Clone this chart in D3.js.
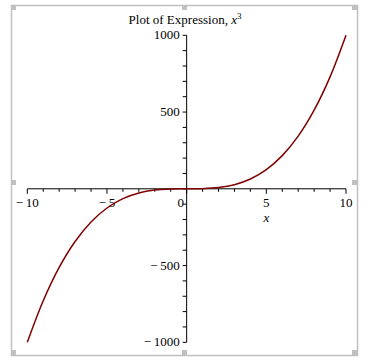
<!DOCTYPE html>
<html>
<head>
<meta charset="utf-8">
<script src="https://cdn.jsdelivr.net/npm/d3@7"></script>
<style>
  body { margin: 0; background: #fff; }
  text { font-family: "Liberation Serif", "DejaVu Serif", serif; font-size: 13px; fill: #000; }
</style>
</head>
<body>
<div id="my_dataviz"></div>
<script>
var width = 371,
    height = 362;

// values, y = x^3 at each integer x
var xValues = [-10, -9, -8, -7, -6, -5, -4, -3, -2, -1, 0, 1, 2, 3, 4, 5, 6, 7, 8, 9, 10];
var yValues = [-1000, -729, -512, -343, -216, -125, -64, -27, -8, -1, 0, 1, 8, 27, 64, 125, 216, 343, 512, 729, 1000];
var xTickLabels = [-10, -5, 0, 5, 10];
var yTickLabels = [-1000, -500, 500, 1000];

var svg = d3.select("#my_dataviz")
  .append("svg")
    .attr("width", width)
    .attr("height", height);

// frame with selection handles
svg.append("rect")
  .attr("x", 11.5).attr("y", 5.5)
  .attr("width", 346).attr("height", 350)
  .attr("fill", "none")
  .attr("stroke", "#c0c0c0")
  .attr("stroke-width", 1.5);

var handles = [[11, 5], [182, 5], [352, 5], [11, 180], [352, 180], [11, 350], [182, 350], [352, 350]];
svg.selectAll("rect.handle")
  .data(handles)
  .enter()
  .append("rect")
    .attr("class", "handle")
    .attr("x", function(d) { return d[0]; })
    .attr("y", function(d) { return d[1]; })
    .attr("width", 5)
    .attr("height", 5)
    .attr("fill", "#c0c0c0");

var x = d3.scaleLinear().domain([-10, 10]).range([27.3, 346]);
var y = d3.scaleLinear().domain([-1000, 1000]).range([342.3, 35.3]);

var x0 = x(0), y0 = y(0);
var fmt = function(v) { return v < 0 ? "\u2212\u2009" + Math.abs(v) : "" + v; };

// x axis
var xAxis = svg.append("g");
xAxis.append("line")
  .attr("x1", x(-10)).attr("x2", x(10))
  .attr("y1", y0).attr("y2", y0)
  .attr("stroke", "#000");
xAxis.selectAll("line.tick")
  .data(d3.range(-10, 11))
  .enter()
  .append("line")
    .attr("class", "tick")
    .attr("x1", function(d) { return x(d); })
    .attr("x2", function(d) { return x(d); })
    .attr("y1", y0)
    .attr("y2", function(d) { return y0 + (d % 5 === 0 ? 5 : 3); })
    .attr("stroke", "#000");
xAxis.selectAll("text")
  .data(xTickLabels)
  .enter()
  .append("text")
    .attr("x", function(d) { return d === 0 ? x0 - 6 : x(d); })
    .attr("y", y0 + 18)
    .attr("text-anchor", "middle")
    .text(fmt);
svg.append("text")
  .attr("x", x(5))
  .attr("y", y0 + 33)
  .attr("text-anchor", "middle")
  .style("font-style", "italic")
  .text("x");

// y axis
var yAxis = svg.append("g");
yAxis.append("line")
  .attr("x1", x0).attr("x2", x0)
  .attr("y1", y(-1000)).attr("y2", y(1000))
  .attr("stroke", "#000");
yAxis.selectAll("line.tick")
  .data(d3.range(-1000, 1001, 100))
  .enter()
  .append("line")
    .attr("class", "tick")
    .attr("x1", x0)
    .attr("x2", x0 - 4)
    .attr("y1", function(d) { return y(d); })
    .attr("y2", function(d) { return y(d); })
    .attr("stroke", "#000");
yAxis.selectAll("text")
  .data(yTickLabels)
  .enter()
  .append("text")
    .attr("x", x0 - 7)
    .attr("y", function(d) { return y(d) + 4; })
    .attr("text-anchor", "end")
    .text(fmt);

// title
var title = svg.append("text")
  .attr("x", 185)
  .attr("y", 24)
  .attr("text-anchor", "middle");
title.append("tspan").text("Plot of Expression, ");
title.append("tspan").style("font-style", "italic").text("x");
title.append("tspan").attr("dy", -5).style("font-size", "9px").text("3");

// curve
var pts = xValues.map(function(v, i) { return [v, yValues[i]]; });
svg.append("path")
  .datum(pts)
  .attr("fill", "none")
  .attr("stroke", "#800000")
  .attr("stroke-width", 1.5)
  .attr("d", d3.line()
    .x(function(d) { return x(d[0]); })
    .y(function(d) { return y(d[1]); })
    .curve(d3.curveCatmullRom));
</script>
</body>
</html>
